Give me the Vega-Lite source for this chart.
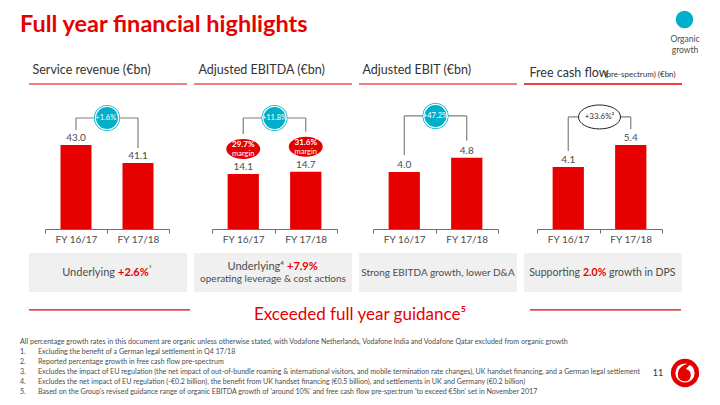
{
  "$schema": "https://vega.github.io/schema/vega-lite/v6.json",
  "padding": {"left": 20, "top": 9, "right": 4, "bottom": 0},
  "title": {"text": "Full year financial highlights", "anchor": "start", "dx": 0, "fontSize": 23.5, "font": "Lato", "fontWeight": "bold", "color": "#e60000", "offset": -27},
  "spacing": 9,
  "vconcat": [
    {
      "bounds": "flush",
      "spacing": 7,
      "hconcat": [
        {
          "width": 158, "height": 145,
          "title": {"text": "Service revenue (€bn)", "anchor": "start", "dx": 4, "fontSize": 12.5, "fontWeight": "normal", "color": "#333333", "offset": 7},
          "data": {"values": [{"year": "FY 16/17", "value": 43.0}, {"year": "FY 17/18", "value": 41.1}]},
          "layer": [
            {"data": {"values": [{"from": "FY 16/17", "to": "FY 17/18", "growth": "+1.6%¹", "basis": "Organic growth"}]},
             "mark": {"type": "rule", "color": "#e60000", "strokeWidth": 1},
             "encoding": {"y": {"datum": 49.44, "type": "quantitative", "axis": null}}},
            {"mark": {"type": "bar", "color": "#e60000", "width": {"band": 0.5}},
             "encoding": {
               "x": {"field": "year", "type": "nominal", "title": null, "scale": {"range": [16, 140], "paddingInner": 0, "paddingOuter": 0},
                     "axis": {"labelAngle": 0, "domainColor": "#6e6e6e", "tickColor": "#6e6e6e", "tickBand": "extent", "tickSize": 4, "labelPadding": 1, "labelFontSize": 10, "labelColor": "#4a4d4e"}},
               "y": {"field": "value", "type": "quantitative", "title": null, "scale": {"domain": [34.13, 49.44], "zero": false, "nice": false}, "axis": null},
               "y2": {"datum": 34.13}}},
            {"mark": {"type": "text", "dy": -4, "baseline": "alphabetic", "fontSize": 10, "color": "#4a4d4e"},
             "encoding": {"x": {"field": "year", "type": "nominal", "title": null}, "y": {"field": "value", "type": "quantitative", "axis": null}, "text": {"field": "value", "type": "quantitative", "format": ".1f"}}},
            {"mark": {"type": "rule", "color": "#7f7f7f", "strokeWidth": 1.2, "yOffset": -15},
             "encoding": {"x": {"field": "year", "type": "nominal", "title": null}, "y": {"field": "value", "type": "quantitative", "axis": null}, "y2": {"datum": 45.85}}},
            {"data": {"values": [{"from": "FY 16/17", "to": "FY 17/18", "growth": "+1.6%¹", "basis": "Organic growth"}]},
             "layer": [
               {"mark": {"type": "rule", "color": "#7f7f7f", "strokeWidth": 1.2},
                "encoding": {"x": {"field": "from", "type": "nominal", "title": null}, "x2": {"field": "to"}, "y": {"datum": 45.85, "type": "quantitative", "axis": null}}},
               {"mark": {"type": "point", "filled": true, "size": 680, "opacity": 1},
                "encoding": {"x": {"field": "from", "type": "nominal", "title": null, "bandPosition": 1}, "y": {"datum": 45.85, "type": "quantitative", "axis": null},
                             "color": {"field": "basis", "type": "nominal", "scale": {"domain": ["Organic growth", "Reported"], "range": ["#00b0ca", "#ffffff"]},
                                       "legend": {"orient": "none", "legendX": 641, "legendY": -75, "values": ["Organic growth"], "title": ["Organic", "growth"], "titleOrient": "bottom", "titleAnchor": "middle", "titleAlign": "center", "titleFontSize": 8.5, "titleFontWeight": "normal", "titleColor": "#4a4d4e", "titleLineHeight": 11, "labelExpr": "''", "labelOffset": 0, "labelFontSize": 1, "symbolType": "circle", "symbolSize": 360, "symbolStrokeColor": "white", "symbolStrokeWidth": 1.5, "symbolOpacity": 1, "padding": 0, "titlePadding": 3}}}},
               {"mark": {"type": "point", "filled": false, "stroke": "white", "strokeWidth": 1.3, "size": 540, "opacity": 1},
                "encoding": {"x": {"field": "from", "type": "nominal", "title": null, "bandPosition": 1}, "y": {"datum": 45.85, "type": "quantitative", "axis": null}}},
               {"mark": {"type": "text", "color": "white", "fontSize": 7.5, "baseline": "middle"},
                "encoding": {"x": {"field": "from", "type": "nominal", "title": null, "bandPosition": 1}, "y": {"datum": 45.85, "type": "quantitative", "axis": null}, "text": {"field": "growth"}}}
             ]}
          ]
        },
        {
          "width": 158, "height": 145,
          "title": {"text": "Adjusted EBITDA (€bn)", "anchor": "start", "dx": 5, "fontSize": 12.5, "fontWeight": "normal", "color": "#333333", "offset": 7},
          "data": {"values": [{"year": "FY 16/17", "value": 14.1, "margin": "29.7%"}, {"year": "FY 17/18", "value": 14.7, "margin": "31.6%"}]},
          "layer": [
            {"data": {"values": [{"from": "FY 16/17", "to": "FY 17/18", "growth": "+11.8%", "basis": "Organic growth"}]},
             "mark": {"type": "rule", "color": "#e60000", "strokeWidth": 1},
             "encoding": {"y": {"datum": 37.18, "type": "quantitative", "axis": null}}},
            {"mark": {"type": "bar", "color": "#e60000", "width": {"band": 0.5}},
             "encoding": {
               "x": {"field": "year", "type": "nominal", "title": null, "scale": {"range": [18, 143], "paddingInner": 0, "paddingOuter": 0},
                     "axis": {"labelAngle": 0, "domainColor": "#6e6e6e", "tickColor": "#6e6e6e", "tickBand": "extent", "tickSize": 4, "labelPadding": 1, "labelFontSize": 10, "labelColor": "#4a4d4e"}},
               "y": {"field": "value", "type": "quantitative", "title": null, "scale": {"domain": [0, 37.18], "zero": false, "nice": false}, "axis": null},
               "y2": {"datum": 0}}},
            {"mark": {"type": "text", "dy": -4, "baseline": "alphabetic", "fontSize": 10, "color": "#4a4d4e"},
             "encoding": {"x": {"field": "year", "type": "nominal", "title": null}, "y": {"field": "value", "type": "quantitative", "axis": null}, "text": {"field": "value", "type": "quantitative", "format": ".1f"}}},
            {"mark": {"type": "rule", "color": "#7f7f7f", "strokeWidth": 1.2, "yOffset": -40},
             "encoding": {"x": {"field": "year", "type": "nominal", "title": null}, "y": {"field": "value", "type": "quantitative", "axis": null}, "y2": {"datum": 28.46}}},
            {"mark": {"type": "point", "filled": true, "shape": "M-1,0C-1,-0.325,-0.552,-0.588,0,-0.588C0.552,-0.588,1,-0.325,1,0C1,0.325,0.552,0.588,0,0.588C-0.552,0.588,-1,0.325,-1,0Z", "size": 1156, "color": "#e60000", "opacity": 1, "yOffset": -25},
             "encoding": {"x": {"field": "year", "type": "nominal", "title": null}, "y": {"field": "value", "type": "quantitative", "axis": null}}},
            {"mark": {"type": "text", "color": "white", "fontWeight": "bold", "fontSize": 8, "baseline": "middle", "dy": -29},
             "encoding": {"x": {"field": "year", "type": "nominal", "title": null}, "y": {"field": "value", "type": "quantitative", "axis": null}, "text": {"field": "margin"}}},
            {"mark": {"type": "text", "color": "white", "fontSize": 7.5, "baseline": "middle", "dy": -20},
             "encoding": {"x": {"field": "year", "type": "nominal", "title": null}, "y": {"field": "value", "type": "quantitative", "axis": null}, "text": {"value": "margin"}}},
            {"data": {"values": [{"from": "FY 16/17", "to": "FY 17/18", "growth": "+11.8%", "basis": "Organic growth"}]},
             "layer": [
               {"mark": {"type": "rule", "color": "#7f7f7f", "strokeWidth": 1.2},
                "encoding": {"x": {"field": "from", "type": "nominal", "title": null}, "x2": {"field": "to"}, "y": {"datum": 28.46, "type": "quantitative", "axis": null}}},
               {"mark": {"type": "point", "filled": true, "size": 680, "opacity": 1},
                "encoding": {"x": {"field": "from", "type": "nominal", "title": null, "bandPosition": 1}, "y": {"datum": 28.46, "type": "quantitative", "axis": null},
                             "color": {"field": "basis", "type": "nominal", "scale": {"domain": ["Organic growth", "Reported"], "range": ["#00b0ca", "#ffffff"]}}}},
               {"mark": {"type": "point", "filled": false, "stroke": "white", "strokeWidth": 1.3, "size": 540, "opacity": 1},
                "encoding": {"x": {"field": "from", "type": "nominal", "title": null, "bandPosition": 1}, "y": {"datum": 28.46, "type": "quantitative", "axis": null}}},
               {"mark": {"type": "text", "color": "white", "fontSize": 7.5, "baseline": "middle"},
                "encoding": {"x": {"field": "from", "type": "nominal", "title": null, "bandPosition": 1}, "y": {"datum": 28.46, "type": "quantitative", "axis": null}, "text": {"field": "growth"}}}
             ]}
          ]
        },
        {
          "width": 158, "height": 145,
          "title": {"text": "Adjusted EBIT (€bn)", "anchor": "start", "dx": 4, "fontSize": 12.5, "fontWeight": "normal", "color": "#333333", "offset": 7},
          "data": {"values": [{"year": "FY 16/17", "value": 4.0}, {"year": "FY 17/18", "value": 4.8}]},
          "layer": [
            {"data": {"values": [{"from": "FY 16/17", "to": "FY 17/18", "growth": "+47.2%", "basis": "Organic growth"}]},
             "mark": {"type": "rule", "color": "#e60000", "strokeWidth": 1},
             "encoding": {"y": {"datum": 8.946, "type": "quantitative", "axis": null}}},
            {"mark": {"type": "bar", "color": "#e60000", "width": {"band": 0.5}},
             "encoding": {
               "x": {"field": "year", "type": "nominal", "title": null, "scale": {"range": [14, 139], "paddingInner": 0, "paddingOuter": 0},
                     "axis": {"labelAngle": 0, "domainColor": "#6e6e6e", "tickColor": "#6e6e6e", "tickBand": "extent", "tickSize": 4, "labelPadding": 1, "labelFontSize": 10, "labelColor": "#4a4d4e"}},
               "y": {"field": "value", "type": "quantitative", "title": null, "scale": {"domain": [0.8, 8.946], "zero": false, "nice": false}, "axis": null},
               "y2": {"datum": 0.8}}},
            {"mark": {"type": "text", "dy": -4, "baseline": "alphabetic", "fontSize": 10, "color": "#4a4d4e"},
             "encoding": {"x": {"field": "year", "type": "nominal", "title": null}, "y": {"field": "value", "type": "quantitative", "axis": null}, "text": {"field": "value", "type": "quantitative", "format": ".1f"}}},
            {"mark": {"type": "rule", "color": "#7f7f7f", "strokeWidth": 1.2, "yOffset": -17},
             "encoding": {"x": {"field": "year", "type": "nominal", "title": null}, "y": {"field": "value", "type": "quantitative", "axis": null}, "y2": {"datum": 7.15}}},
            {"data": {"values": [{"from": "FY 16/17", "to": "FY 17/18", "growth": "+47.2%", "basis": "Organic growth"}]},
             "layer": [
               {"mark": {"type": "rule", "color": "#7f7f7f", "strokeWidth": 1.2},
                "encoding": {"x": {"field": "from", "type": "nominal", "title": null}, "x2": {"field": "to"}, "y": {"datum": 7.15, "type": "quantitative", "axis": null}}},
               {"mark": {"type": "point", "filled": true, "size": 680, "opacity": 1},
                "encoding": {"x": {"field": "from", "type": "nominal", "title": null, "bandPosition": 1}, "y": {"datum": 7.15, "type": "quantitative", "axis": null},
                             "color": {"field": "basis", "type": "nominal", "scale": {"domain": ["Organic growth", "Reported"], "range": ["#00b0ca", "#ffffff"]}}}},
               {"mark": {"type": "point", "filled": false, "stroke": "white", "strokeWidth": 1.3, "size": 540, "opacity": 1},
                "encoding": {"x": {"field": "from", "type": "nominal", "title": null, "bandPosition": 1}, "y": {"datum": 7.15, "type": "quantitative", "axis": null}}},
               {"mark": {"type": "text", "color": "white", "fontSize": 7.5, "baseline": "middle"},
                "encoding": {"x": {"field": "from", "type": "nominal", "title": null, "bandPosition": 1}, "y": {"datum": 7.15, "type": "quantitative", "axis": null}, "text": {"field": "growth"}}}
             ]}
          ]
        },
        {
          "width": 158, "height": 145,
          "title": {"text": "Free cash flow", "anchor": "start", "dx": 6, "fontSize": 12.5, "fontWeight": "normal", "color": "#333333", "offset": -8},
          "data": {"values": [{"year": "FY 16/17", "value": 4.1}, {"year": "FY 17/18", "value": 5.4}]},
          "layer": [
            {"data": {"values": [{"from": "FY 16/17", "to": "FY 17/18", "growth": "+33.6%²", "basis": "Reported"}]},
             "mark": {"type": "rule", "color": "#e60000", "strokeWidth": 1},
             "encoding": {"y": {"datum": 9.01, "type": "quantitative", "axis": null}}},
            {"mark": {"type": "bar", "color": "#e60000", "width": {"band": 0.5}},
             "encoding": {
               "x": {"field": "year", "type": "nominal", "title": null, "scale": {"range": [13, 138], "paddingInner": 0, "paddingOuter": 0},
                     "axis": {"labelAngle": 0, "domainColor": "#6e6e6e", "tickColor": "#6e6e6e", "tickBand": "extent", "tickSize": 4, "labelPadding": 1, "labelFontSize": 10, "labelColor": "#4a4d4e"}},
               "y": {"field": "value", "type": "quantitative", "title": null, "scale": {"domain": [0.43, 9.01], "zero": false, "nice": false}, "axis": null},
               "y2": {"datum": 0.43}}},
            {"mark": {"type": "text", "dy": -4, "baseline": "alphabetic", "fontSize": 10, "color": "#4a4d4e"},
             "encoding": {"x": {"field": "year", "type": "nominal", "title": null}, "y": {"field": "value", "type": "quantitative", "axis": null}, "text": {"field": "value", "type": "quantitative", "format": ".1f"}}},
            {"mark": {"type": "rule", "color": "#7f7f7f", "strokeWidth": 1.2, "yOffset": -16},
             "encoding": {"x": {"field": "year", "type": "nominal", "title": null}, "y": {"field": "value", "type": "quantitative", "axis": null}, "y2": {"datum": 7.06}}},
            {"data": {"values": [{"unit": "(pre-spectrum) (€bn)", "anchor": "FY 17/18"}]},
             "mark": {"type": "text", "align": "left", "baseline": "alphabetic", "fontSize": 8, "color": "#333333", "dx": 5, "dy": -7},
             "encoding": {"x": {"field": "anchor", "type": "nominal", "title": null, "bandPosition": 0}, "y": {"datum": 9.01, "type": "quantitative", "axis": null}, "text": {"field": "unit"}}},
            {"data": {"values": [{"from": "FY 16/17", "to": "FY 17/18", "growth": "+33.6%²", "basis": "Reported"}]},
             "layer": [
               {"mark": {"type": "rule", "color": "#e60000", "strokeWidth": 1},
                "encoding": {"y": {"datum": 9.01, "type": "quantitative", "axis": null}}},
               {"mark": {"type": "rule", "color": "#7f7f7f", "strokeWidth": 1.2},
                "encoding": {"x": {"field": "from", "type": "nominal", "title": null}, "x2": {"field": "to"}, "y": {"datum": 7.06, "type": "quantitative", "axis": null}}},
               {"mark": {"type": "point", "filled": true, "shape": "M-1,0C-1,-0.315,-0.552,-0.571,0,-0.571C0.552,-0.571,1,-0.315,1,0C1,0.315,0.552,0.571,0,0.571C-0.552,0.571,-1,0.315,-1,0Z", "size": 1764, "opacity": 1, "stroke": "#222222", "strokeWidth": 1},
                "encoding": {"x": {"field": "from", "type": "nominal", "title": null, "bandPosition": 1}, "y": {"datum": 7.06, "type": "quantitative", "axis": null},
                             "color": {"field": "basis", "type": "nominal", "scale": {"domain": ["Organic growth", "Reported"], "range": ["#00b0ca", "#ffffff"]}}}},
               {"mark": {"type": "text", "color": "#333333", "fontSize": 8, "baseline": "middle"},
                "encoding": {"x": {"field": "from", "type": "nominal", "title": null, "bandPosition": 1}, "y": {"datum": 7.06, "type": "quantitative", "axis": null}, "text": {"field": "growth"}}}
             ]}
          ]
        }
      ]
    },
    {
      "width": 653, "height": 39,
      "data": {"values": [
        {"metric": "Service revenue", "lead": "Underlying", "highlight": "+2.6%", "note": "³"},
        {"metric": "Adjusted EBITDA", "lead": "Underlying⁴", "highlight": "+7.9%", "detail": "operating leverage & cost actions"},
        {"metric": "Adjusted EBIT", "detail": "Strong EBITDA growth, lower D&A"},
        {"metric": "Free cash flow", "lead": "Supporting", "highlight": "2.0%", "tail": "growth in DPS"}
      ]},
      "encoding": {"x": {"field": "metric", "type": "nominal", "title": null, "sort": null, "scale": {"domain": ["Service revenue", "Adjusted EBITDA", "Adjusted EBIT", "Free cash flow"], "paddingInner": 0.0424, "paddingOuter": 0}, "axis": null}},
      "layer": [
        {"mark": {"type": "bar", "color": "#f0f0f0"}},
        {"transform": [{"filter": "datum.metric == 'Service revenue'"}], "layer": [
          {"mark": {"type": "text", "align": "right", "baseline": "middle", "fontSize": 11, "color": "#4a4d4e", "dx": 7}, "encoding": {"text": {"field": "lead"}}},
          {"mark": {"type": "text", "align": "left", "baseline": "middle", "fontSize": 11, "color": "#e60000", "fontWeight": "bold", "dx": 10}, "encoding": {"text": {"field": "highlight"}}},
          {"mark": {"type": "text", "align": "left", "baseline": "middle", "fontSize": 7, "color": "#4a4d4e", "dx": 41, "dy": -4}, "encoding": {"text": {"field": "note"}}}
        ]},
        {"transform": [{"filter": "datum.metric == 'Adjusted EBITDA'"}], "layer": [
          {"mark": {"type": "text", "align": "right", "baseline": "middle", "fontSize": 11, "color": "#4a4d4e", "dx": 11, "dy": -6}, "encoding": {"text": {"field": "lead"}}},
          {"mark": {"type": "text", "align": "left", "baseline": "middle", "fontSize": 11, "color": "#e60000", "fontWeight": "bold", "dx": 14, "dy": -6}, "encoding": {"text": {"field": "highlight"}}},
          {"mark": {"type": "text", "align": "center", "baseline": "middle", "fontSize": 10, "color": "#4a4d4e", "dy": 6}, "encoding": {"text": {"field": "detail"}}}
        ]},
        {"transform": [{"filter": "datum.metric == 'Adjusted EBIT'"}], "layer": [
          {"mark": {"type": "text", "align": "center", "baseline": "middle", "fontSize": 10, "color": "#4a4d4e"}, "encoding": {"text": {"field": "detail"}}}
        ]},
        {"transform": [{"filter": "datum.metric == 'Free cash flow'"}], "layer": [
          {"mark": {"type": "text", "align": "right", "baseline": "middle", "fontSize": 10.5, "color": "#4a4d4e", "dx": -23}, "encoding": {"text": {"field": "lead"}}},
          {"mark": {"type": "text", "align": "left", "baseline": "middle", "fontSize": 10.5, "color": "#e60000", "fontWeight": "bold", "dx": -20}, "encoding": {"text": {"field": "highlight"}}},
          {"mark": {"type": "text", "align": "left", "baseline": "middle", "fontSize": 10.5, "color": "#4a4d4e", "dx": 6}, "encoding": {"text": {"field": "tail"}}}
        ]}
      ]
    },
    {
      "bounds": "flush",
      "spacing": 0,
      "hconcat": [
        {
          "width": 161, "height": 22,
          "data": {"values": [{"side": "left"}]},
          "mark": {"type": "rule", "color": "#e60000", "strokeWidth": 1.2},
          "encoding": {"y": {"datum": 0.2, "type": "quantitative", "scale": {"domain": [-1, 1]}, "axis": null}}
        },
        {
          "width": 340, "height": 22,
          "data": {"values": [{"headline": "Exceeded full year guidance⁵"}]},
          "mark": {"type": "text", "color": "#e60000", "fontSize": 17, "baseline": "middle", "dy": 3},
          "encoding": {"text": {"field": "headline"}}
        },
        {
          "width": 151, "height": 22,
          "data": {"values": [{"side": "right"}]},
          "mark": {"type": "rule", "color": "#e60000", "strokeWidth": 1.2},
          "encoding": {"y": {"datum": 0.2, "type": "quantitative", "scale": {"domain": [-1, 1]}, "axis": null}}
        }
      ]
    },
    {
      "bounds": "flush",
      "spacing": 0,
      "hconcat": [
        {
          "width": 615, "height": 70,
          "data": {"values": [
            {"line": 0, "label": "All percentage growth rates in this document are organic unless otherwise stated, with Vodafone Netherlands, Vodafone India and Vodafone Qatar excluded from organic growth"},
            {"line": 1, "label": "1.", "note": "Excluding the benefit of a German legal settlement in Q4 17/18"},
            {"line": 2, "label": "2.", "note": "Reported percentage growth in free cash flow pre-spectrum"},
            {"line": 3, "label": "3.", "note": "Excludes the impact of EU regulation (the net impact of out-of-bundle roaming & international visitors, and mobile termination rate changes), UK handset financing, and a German legal settlement"},
            {"line": 4, "label": "4.", "note": "Excludes the net impact of EU regulation (-€0.2 billion), the benefit from UK handset financing (€0.5 billion), and settlements in UK and Germany (€0.2 billion)"},
            {"line": 5, "label": "5.", "note": "Based on the Group’s revised guidance range of organic EBITDA growth of ‘around 10%’ and free cash flow pre-spectrum ‘to exceed €5bn’ set in November 2017"}
          ]},
          "encoding": {"y": {"field": "line", "type": "ordinal", "title": null, "scale": {"type": "point", "padding": 1.3}, "axis": null}},
          "layer": [
            {"mark": {"type": "text", "align": "left", "baseline": "middle", "fontSize": 7.1, "color": "#4a4d4e", "dx": -9}, "encoding": {"x": {"value": 0}, "text": {"field": "label"}}},
            {"transform": [{"filter": "isValid(datum.note)"}],
             "mark": {"type": "text", "align": "left", "baseline": "middle", "fontSize": 7.1, "color": "#4a4d4e", "dx": 9}, "encoding": {"x": {"value": 0}, "text": {"field": "note"}}}
          ]
        },
        {
          "width": 28, "height": 70,
          "data": {"values": [{"page": "11"}]},
          "mark": {"type": "text", "fontSize": 9, "color": "#333333", "dy": 6},
          "encoding": {"text": {"field": "page"}}
        },
        {
          "width": 26, "height": 70,
          "data": {"values": [{"brand": "Vodafone"}]},
          "layer": [
            {"mark": {"type": "point", "shape": "circle", "filled": true, "color": "#e60000", "size": 800, "opacity": 1, "yOffset": 6}, "encoding": {}},
            {"mark": {"type": "point", "shape": "circle", "filled": true, "color": "#ffffff", "size": 370, "opacity": 1, "yOffset": 6}, "encoding": {}},
            {"mark": {"type": "point", "shape": "M0.42,-0.6C0.05,-0.62,-0.45,-0.42,-0.45,0.1C-0.45,0.38,-0.25,0.52,-0.03,0.52C0.2,0.52,0.36,0.36,0.36,0.12C0.36,-0.12,0.2,-0.22,0.06,-0.24C0.16,-0.4,0.3,-0.52,0.42,-0.6Z", "filled": true, "color": "#e60000", "size": 1024, "opacity": 1, "yOffset": 6}, "encoding": {}}
          ]
        }
      ]
    }
  ],
  "config": {
    "view": {"stroke": null},
    "font": "Lato",
    "axis": {"labelFont": "Lato"},
    "legend": {"labelFont": "Lato", "titleFont": "Lato"}
  }
}
